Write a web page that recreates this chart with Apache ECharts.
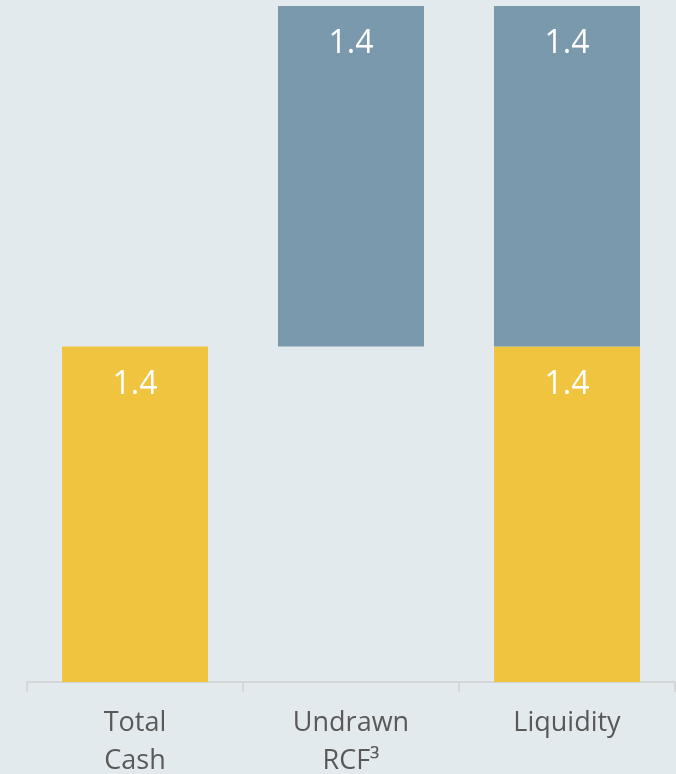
<!DOCTYPE html>
<html>
<head>
<meta charset="utf-8">
<script src="https://cdn.jsdelivr.net/npm/echarts@6/dist/echarts.min.js"></script>
<style>
  html, body { margin: 0; padding: 0; background: #E3EAEE; }
  #chart { width: 676px; height: 774px; }
</style>
</head>
<body>
<div id="chart"></div>
<script>
// categories and values (bn)
var categories = ['Total\nCash', 'Undrawn\nRCF\u00B3', 'Liquidity'];
var baseValues = ['-', 1.40, '-'];      // invisible offset for the floating bar
var cashValues = [1.40, '-', 1.40];
var rcfValues = ['-', 1.42, 1.42];

var chart = echarts.init(document.getElementById('chart'));

var labelStyle = {
  show: true,
  position: 'insideTop',
  distance: 22,
  color: '#ffffff',
  fontSize: 32,
  fontFamily: 'Open Sans',
  formatter: function (p) { return p.value.toFixed(1); }
};

var option = {
  backgroundColor: '#E3EAEE',
  animation: false,
  grid: { left: 27, right: 1, top: 6, bottom: 92, outerBoundsMode: 'none' },
  xAxis: {
    type: 'category',
    data: categories,
    axisLine: { lineStyle: { color: '#D3D7DA', width: 2 } },
    axisTick: { show: true, length: 10, lineStyle: { color: '#D3D7DA', width: 2 } },
    axisLabel: {
      color: '#595959',
      fontSize: 27,
      fontFamily: 'Open Sans',
      lineHeight: 38,
      margin: 22,
      interval: 0
    }
  },
  yAxis: {
    type: 'value',
    min: 0,
    max: 2.82,
    show: false,
    splitLine: { show: false }
  },
  series: [
    {
      name: 'base',
      type: 'bar',
      stack: 'total',
      barWidth: '67.6%',
      silent: true,
      itemStyle: { color: 'transparent' },
      data: baseValues
    },
    {
      name: 'Cash',
      type: 'bar',
      stack: 'total',
      barWidth: '67.6%',
      itemStyle: { color: '#F0C43F' },
      label: labelStyle,
      data: cashValues
    },
    {
      name: 'RCF',
      type: 'bar',
      stack: 'total',
      barWidth: '67.6%',
      itemStyle: { color: '#7A99AD' },
      label: labelStyle,
      data: rcfValues
    }
  ]
};

chart.setOption(option);
</script>
</body>
</html>
